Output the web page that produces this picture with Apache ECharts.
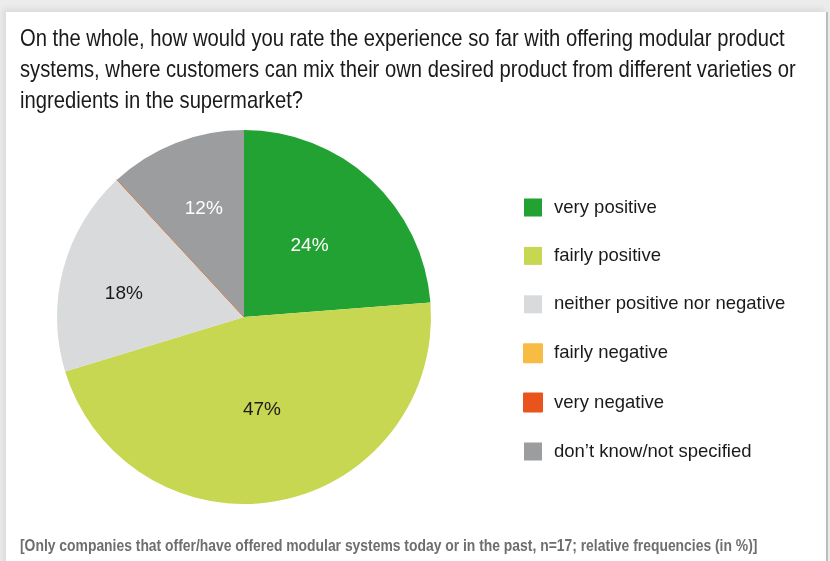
<!DOCTYPE html>
<html>
<head>
<meta charset="utf-8">
<script src="https://cdn.jsdelivr.net/npm/echarts@6/dist/echarts.min.js"></script>
<style>
  html, body { margin: 0; padding: 0; width: 830px; height: 561px; overflow: hidden; background: #ececec; }
  #card {
    position: absolute; left: 6px; top: 12px; width: 820px; height: 560px;
    background: #fff; border-right: 2px solid #bdbdbd;
    box-shadow: -3px -3px 6px rgba(0,0,0,0.08);
  }
  #chart { position: absolute; left: 0; top: 0; width: 830px; height: 561px; }
</style>
</head>
<body>
<div id="card"></div>
<div id="chart"></div>
<script>
// Survey answers (share of companies, in %)
const categories = [
  'very positive',
  'fairly positive',
  'neither positive nor negative',
  'fairly negative',
  'very negative',
  'don\u2019t know/not specified'
];
const shares = [24, 47, 18, 0, 0, 12];
const colors = ['#21a232', '#c8d752', '#d9dadc', '#f8bc45', '#e8541c', '#9c9d9f'];
const labelColors = ['#ffffff', '#1a1a1a', '#1a1a1a', '#1a1a1a', '#1a1a1a', '#ffffff'];
// small nudges for the labels of the narrower slices
const labelNudges = [[0, 0], [0, -2], [-27, 2], [0, 0], [0, 0], [-5, -18]];

const questionLines = [
  'On the whole, how would you rate the experience so far with offering modular product',
  'systems, where customers can mix their own desired product from different varieties or',
  'ingredients in the supermarket?'
];
const noteText = '[Only companies that offer/have offered modular systems today or in the past, n=17; relative frequencies (in %)]';

const chart = echarts.init(document.getElementById('chart'), null, { renderer: 'canvas' });

const pieData = categories.map((name, i) => ({
  name: name,
  value: shares[i],
  itemStyle: {
    color: colors[i],
    borderColor: shares[i] === 0 ? colors[i] : 'transparent',
    borderWidth: shares[i] === 0 ? 0.6 : 0
  },
  label: { color: labelColors[i], offset: labelNudges[i] }
}));

const FONT = '"Liberation Sans", Arial, sans-serif';

chart.setOption({
  animation: false,
  backgroundColor: 'transparent',
  graphic: [
    {
      type: 'text',
      left: 20, top: 24,
      scaleX: 0.842, originX: 0,
      style: {
        text: questionLines.join('\n'),
        font: 'normal 24px ' + FONT,
        fill: '#1a1a1a',
        lineHeight: 31
      }
    },
    {
      type: 'text',
      left: 20, top: 539,
      scaleX: 0.868, originX: 0,
      style: {
        text: noteText,
        font: 'bold 16px ' + FONT,
        fill: '#6e6e6e'
      }
    }
  ],
  legend: {
    orient: 'vertical',
    left: 518, top: 193,
    itemWidth: 18, itemHeight: 18,
    itemGap: 29.4,
    icon: 'rect',
    selectedMode: false,
    data: categories,
    textStyle: {
      fontFamily: FONT,
      fontSize: 18.5, lineHeight: 18, color: '#1a1a1a', padding: [0, 0, 0, 7]
    }
  },
  series: [{
    type: 'pie',
    center: [244, 317],
    radius: [0, 187],
    startAngle: 90,
    clockwise: true,
    avoidLabelOverlap: false,
    stillShowZeroSum: true,
    silent: true,
    label: {
      show: true,
      position: 'inside',
      formatter: p => p.value > 0 ? p.value + '%' : '',
      fontFamily: FONT,
      fontSize: 19
    },
    labelLine: { show: false },
    data: pieData
  }]
});
</script>
</body>
</html>
